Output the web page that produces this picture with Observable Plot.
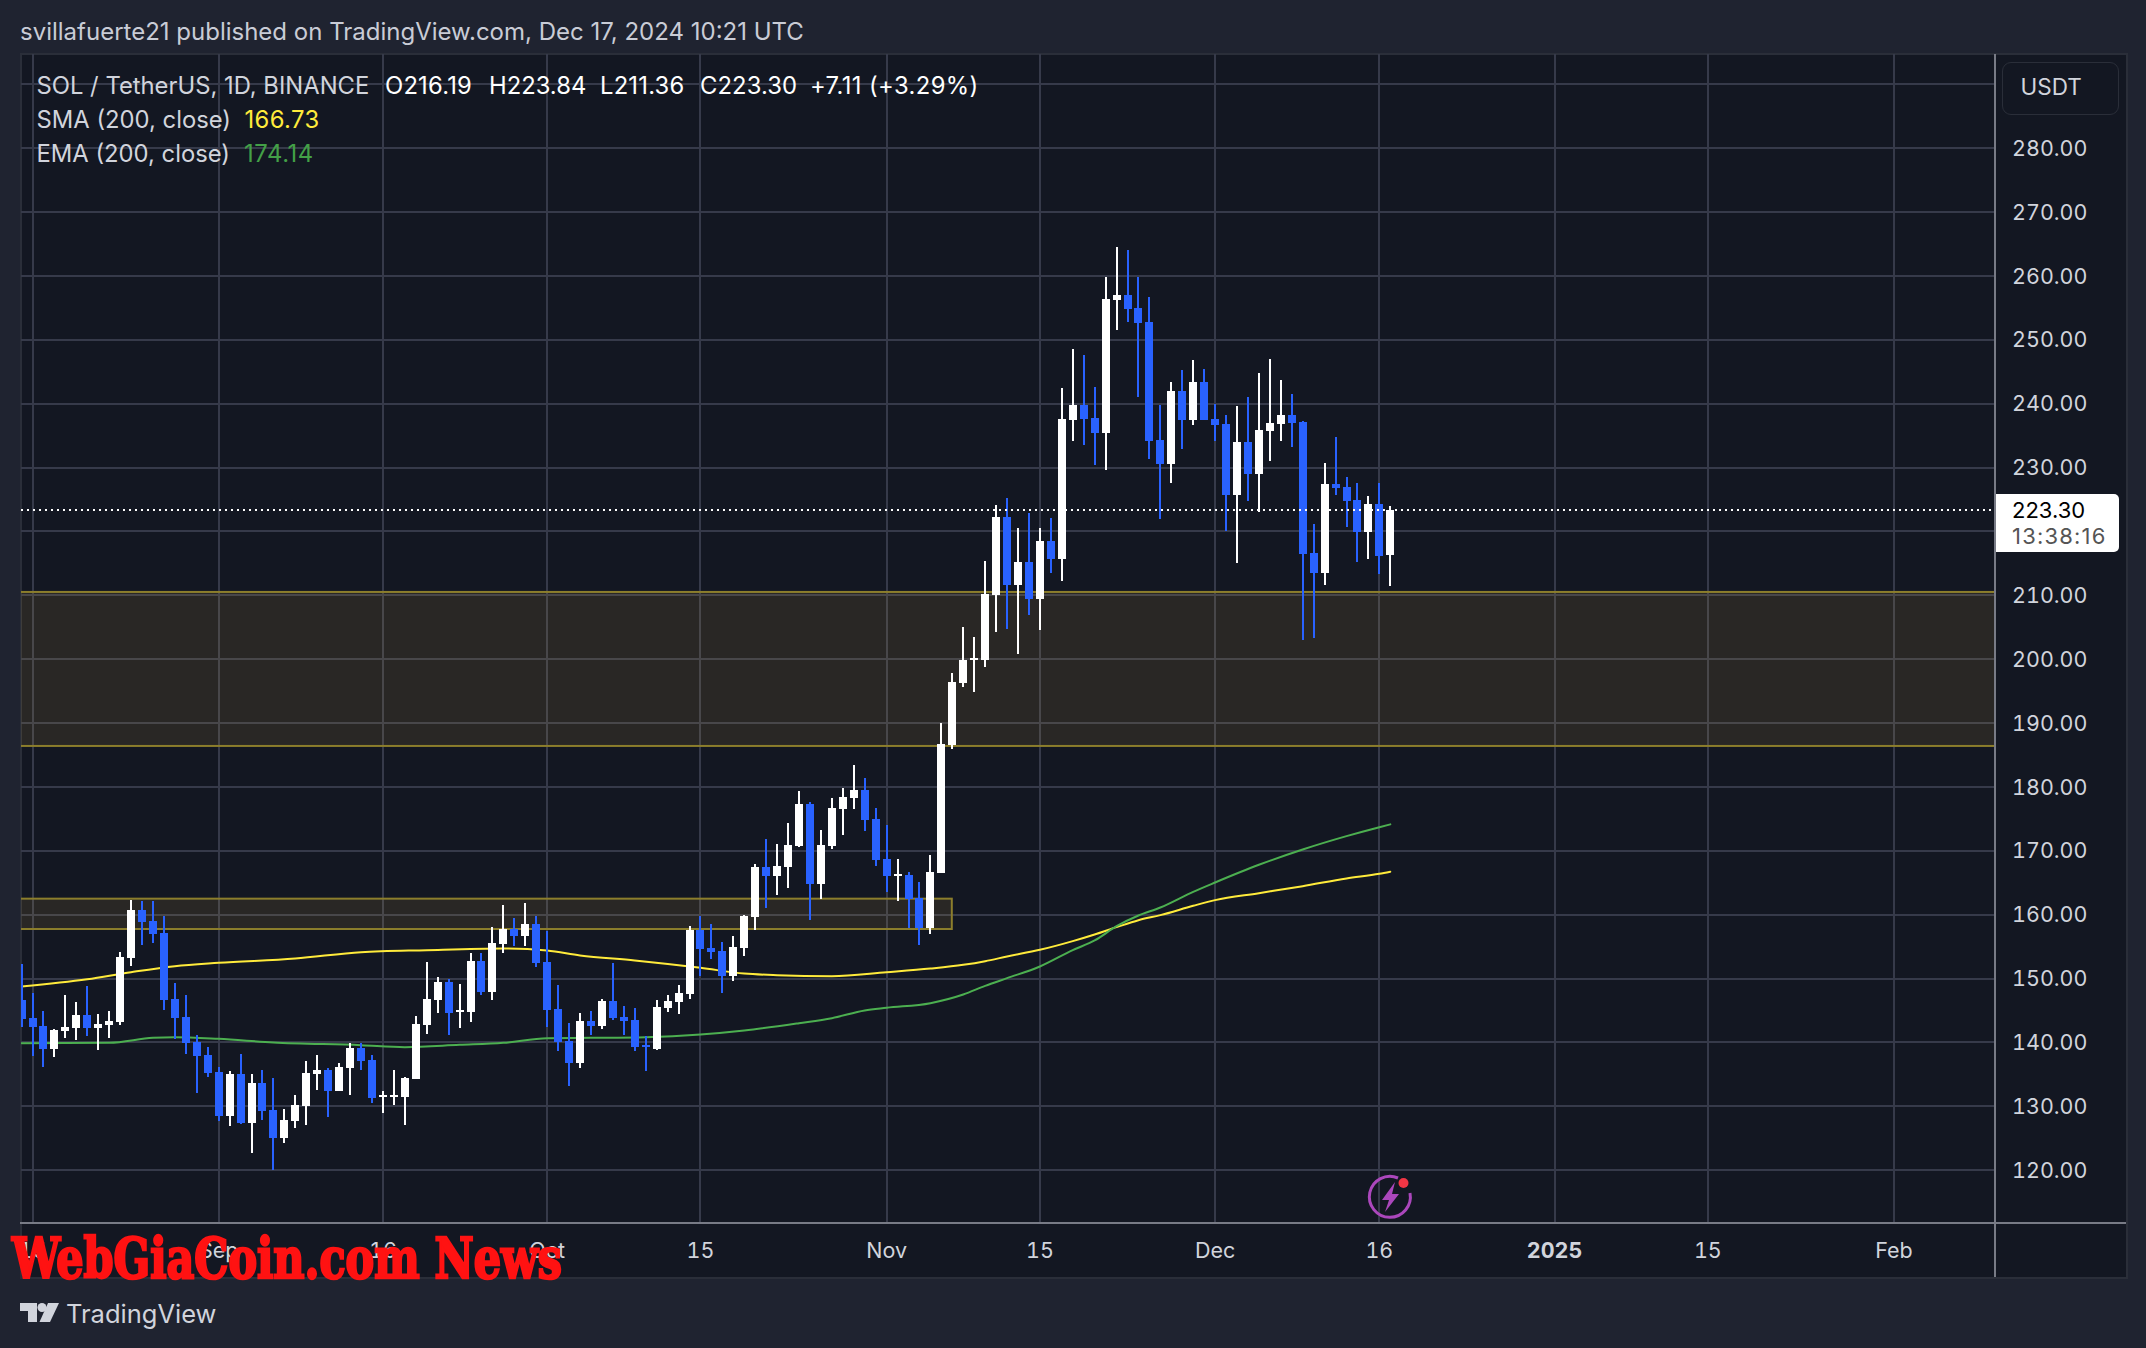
<!DOCTYPE html>
<html>
<head>
<meta charset="utf-8">
<script src="https://cdn.jsdelivr.net/npm/d3@7"></script>
<script src="https://cdn.jsdelivr.net/npm/@observablehq/plot@0.6"></script>
<style>
html,body{margin:0;padding:0;background:#1f2330;width:2146px;height:1348px;overflow:hidden;font-family:Inter,sans-serif}
#frame{position:absolute;left:20px;top:53px;width:2104px;height:1222px;background:#131722;border:2px solid #2a2e39}
#chart{position:absolute;left:0;top:0}
.t{position:absolute;white-space:pre;transform:translateY(-50%);line-height:1}
.rule{position:absolute;background:#787b86}
#usdt{position:absolute;left:2002px;top:62px;width:115px;height:51px;border:1.5px solid #2a2e39;border-radius:9px}
#tag{position:absolute;left:1996px;top:494px;width:123px;height:58px;background:#fff;border-radius:0 5px 5px 0}
svg.o{position:absolute;left:0;top:0;overflow:visible}
</style>
</head>
<body>
<div id="frame"></div>
<div id="chart"></div>
<script>
const startDate = "2024-08-14";
const opens = [146.6,143.75,142.49,138.89,141.71,142.18,144.22,142.18,142.65,143.12,
153.14,160.66,158.93,157.05,146.72,143.9,139.99,137.95,135.29,128.4,
134.98,127.31,133.57,129.34,124.96,127.62,129.97,134.98,135.6,132.32,
135.92,139.05,137.17,131.38,131.38,131.38,134.2,142.65,146.56,149.38,
144.69,144.69,152.67,147.82,155.33,157.68,156.58,158.46,152.51,145.16,
140.15,136.7,143.28,142.49,146.41,143.9,143.43,139.52,138.89,145.31,
146.25,147.5,157.52,154.71,154.24,150.32,154.71,159.57,167.39,165.98,
167.39,170.68,177.26,164.73,170.68,176.47,178.2,179.45,174.91,168.65,
165.98,166.14,162.54,157.84,166.45,186.5,196.21,199.81,199.81,209.98,
222.2,211.55,215.15,209.36,218.44,215.62,237.38,239.73,237.7,235.35,
256.17,256.95,254.92,252.73,234.25,230.49,241.92,237.38,243.33,237.54,
236.75,225.63,233.93,228.92,235.65,236.75,238.16,237.06,216.55,213.42,
227.35,226.88,224.85,219.84,224.22,216.19];
const highs = [152.2,147.66,144.84,142.02,147.35,146.25,148.76,144.37,144.84,154.08,
162.22,162.07,162.07,159.72,149.23,147.35,141.08,139.21,136.07,135.45,
138.11,134.98,135.6,134.35,129.5,131.69,137.01,137.95,135.92,136.7,
139.83,139.83,137.95,132.32,135.6,134.51,144.06,152.51,150.17,149.85,
149.07,153.92,153.92,157.99,161.44,159.4,161.75,159.72,157.37,148.91,
142.96,144.53,144.84,146.72,152.36,145.63,145.31,140.93,146.56,147.35,
148.91,158.15,159.72,158.46,155.65,156.58,159.87,167.86,171.78,170.99,
174.28,179.29,177.57,173.19,178.2,179.76,183.36,181.33,176.63,173.97,
168.65,166.61,165.05,169.27,189.94,197.77,204.97,203.41,215.31,224.08,
225.17,220.47,222.82,220.47,222.04,242.39,248.5,247.56,242.55,259.77,
264.47,264.0,259.77,256.64,239.73,243.33,245.21,246.78,245.37,239.89,
238.16,239.57,240.98,244.73,246.93,243.64,241.45,237.22,221.09,230.64,
234.71,228.45,227.51,225.48,227.51,223.84];
const lows = [142.4,137.8,136.07,137.64,140.61,140.3,140.93,138.74,140.61,142.65,
151.89,155.18,155.49,145.0,140.46,138.11,132.0,134.51,127.62,126.84,
127.15,122.61,127.78,119.95,124.18,126.52,127.0,132.47,128.25,132.32,
131.69,135.6,130.44,128.87,130.12,127.0,134.2,141.24,144.53,141.08,
142.18,143.12,147.35,146.56,153.92,155.02,155.02,151.73,142.34,138.58,
133.1,135.92,141.08,142.02,143.43,141.08,138.58,135.45,138.74,144.69,
144.37,146.72,150.32,152.98,147.66,149.54,153.45,157.53,160.97,163.0,
164.11,170.53,159.1,162.38,170.21,172.4,176.47,173.03,167.55,163.48,
162.07,157.84,155.18,156.9,166.45,185.87,195.58,194.8,198.71,204.19,
204.66,200.75,206.85,204.5,213.43,212.18,234.09,233.47,230.34,229.55,
251.47,252.72,240.98,231.27,221.88,227.52,232.84,236.6,237.38,234.09,
220.0,214.99,224.69,222.97,230.95,234.09,233.15,202.93,203.24,211.54,
225.63,220.62,215.14,215.61,213.26,211.36];
const closes = [143.6,142.34,138.89,141.87,142.34,144.22,142.18,142.81,143.28,153.3,
160.66,158.78,156.9,146.56,143.75,139.83,137.8,135.13,128.4,134.98,
127.31,133.57,129.19,124.96,127.78,130.12,135.13,135.6,132.32,136.07,
139.05,137.01,131.22,131.69,131.69,134.35,142.81,146.72,149.38,144.53,
145.0,152.67,147.82,155.49,157.68,156.58,158.46,152.36,145.0,139.99,
136.7,143.28,142.49,146.41,143.75,143.28,139.21,139.21,145.47,146.41,
147.66,157.52,154.55,154.08,150.32,154.86,159.72,167.39,165.98,167.55,
170.84,177.26,164.73,170.84,176.63,178.35,179.45,174.75,168.49,165.98,
166.3,162.38,157.84,166.61,186.65,196.36,199.81,200.12,210.14,222.2,
211.55,215.15,209.36,218.44,215.62,237.54,239.73,237.54,235.35,256.33,
256.95,254.76,252.57,234.09,230.49,241.92,237.38,243.33,237.38,236.6,
225.63,233.93,228.92,235.81,236.9,238.16,236.9,216.39,213.42,227.35,
226.73,224.69,219.84,224.22,216.08,223.30];

const smaDates = ["2024-08-14","2024-08-20","2024-08-24","2024-08-28","2024-09-01","2024-09-08","2024-09-14","2024-09-20","2024-09-27","2024-10-01","2024-10-04","2024-10-09","2024-10-15","2024-10-19","2024-10-22","2024-10-27","2024-11-01","2024-11-05","2024-11-08","2024-11-10","2024-11-12","2024-11-15","2024-11-18","2024-11-20","2024-11-22","2024-11-24","2024-11-26","2024-11-29","2024-12-01","2024-12-05","2024-12-09","2024-12-13","2024-12-16","2024-12-17"];
const smaValues = [148.76,149.9,151.0,151.94,152.46,153.14,154.13,154.45,154.7,154.39,153.61,152.83,151.68,150.79,150.53,150.37,151.0,151.57,152.15,152.72,153.46,154.5,155.86,156.9,158.05,159.14,159.93,161.39,162.28,163.37,164.47,165.67,166.4,166.73];
const emaDates = ["2024-08-14","2024-08-22","2024-08-26","2024-08-28","2024-09-01","2024-09-06","2024-09-14","2024-09-18","2024-09-23","2024-09-27","2024-10-01","2024-10-05","2024-10-10","2024-10-15","2024-10-19","2024-10-24","2024-10-27","2024-10-30","2024-11-01","2024-11-05","2024-11-08","2024-11-10","2024-11-12","2024-11-15","2024-11-18","2024-11-20","2024-11-22","2024-11-24","2024-11-26","2024-11-29","2024-12-01","2024-12-05","2024-12-09","2024-12-13","2024-12-16","2024-12-17"];
const emaValues = [139.88,139.94,140.72,140.82,140.56,140.0,139.57,139.26,139.62,139.94,140.67,140.72,140.82,141.24,141.87,143.02,143.8,145.0,145.42,146.15,147.5,148.86,150.06,151.89,154.45,155.96,158.2,159.87,161.13,163.58,165.04,167.81,170.21,172.3,173.7,174.14];

const zones = [
  {x1:"2024-07-01", x2:"2025-04-01", low:186.34, high:210.45},
  {x1:"2024-07-01", x2:"2024-11-07", low:157.68, high:162.43}
];
const lastPrice = 223.30;
const gridPrices = d3.range(120, 300, 10);
const axisPrices = [120,130,140,150,160,170,180,190,200,210,230,240,250,260,270,280];
const tickDates = ["2024-08-15","2024-09-01","2024-09-16","2024-10-01","2024-10-15","2024-11-01","2024-11-15","2024-12-01","2024-12-16","2025-01-01","2025-01-15","2025-02-01"];
const tickLabels = ["15","Sep","16","Oct","15","Nov","15","Dec","16","2025","15","Feb"];
const boldTick = "2025-01-01";

const candles = opens.map((o,i)=>({date:d3.utcDay.offset(new Date(startDate),i),open:o,high:highs[i],low:lows[i],close:closes[i]}));
const series = (ds,vs)=>ds.map((d,i)=>({date:new Date(d),value:vs[i]}));
const sma = series(smaDates,smaValues), ema = series(emaDates,emaValues);
const tickDs = tickDates.map(d=>new Date(d));
const labelOf = new Map(tickDates.map((d,i)=>[+new Date(d),tickLabels[i]]));
const boldD = new Date(boldTick);
const zoneData = zones.map(z=>({...z,x1:new Date(z.x1),x2:new Date(z.x2)}));

const UP="#ffffff", DOWN="#2962ff", GRID="#363a4a";
const crisp={shapeRendering:"crispEdges"};
const up=candles.filter(d=>d.close>=d.open), down=candles.filter(d=>d.close<d.open);
const candleMarks=(data,color)=>[
  Plot.ruleX(data,{x:"date",y1:"low",y2:"high",stroke:color,strokeWidth:2,clip:true,...crisp}),
  Plot.ruleX(data,{x:"date",y1:"open",y2:"close",stroke:color,strokeWidth:8,clip:true,...crisp})
];
const FONT="Inter, sans-serif";
const plot = Plot.plot({
  width:2146, height:1348,
  marginLeft:21, marginRight:151, marginTop:54, marginBottom:125.3,
  style:{background:"transparent",color:"#d1d4dc",fontFamily:FONT,fontSize:"21.5px",overflow:"visible"},
  x:{type:"utc",domain:[new Date("2024-08-14"),new Date("2025-02-10")],range:[21.05,1992.05],axis:null},
  y:{domain:[111.7,294.67],axis:null},
  marks:[
    Plot.gridX(tickDs,{x:d=>d,stroke:GRID,strokeOpacity:1,strokeWidth:2,...crisp}),
    Plot.gridY(gridPrices,{y:d=>d,stroke:GRID,strokeOpacity:1,strokeWidth:2,...crisp}),
    Plot.rect(zoneData,{x1:"x1",x2:"x2",y1:"low",y2:"high",fill:"#fbca4c",fillOpacity:0.095,stroke:"#8c7e2c",strokeWidth:2,clip:true}),
    Plot.line(sma,{x:"date",y:"value",stroke:"#ffeb3b",strokeWidth:2,curve:"monotone-x",clip:true}),
    Plot.line(ema,{x:"date",y:"value",stroke:"#4caf50",strokeWidth:2,curve:"monotone-x",clip:true}),
    ...candleMarks(down,DOWN),
    ...candleMarks(up,UP),
    Plot.ruleY([lastPrice],{y:d=>d,stroke:"#fff",strokeWidth:2,strokeDasharray:"2,4",...crisp}),
    Plot.axisY(axisPrices,{anchor:"right",tickSize:0,tickPadding:16.5,tickFormat:d=>d.toFixed(2),fontSize:21.5,fontFamily:FONT,label:null,textAnchor:"start",dy:0.7}),
    Plot.axisX(tickDs.filter(d=>+d!==+boldD),{anchor:"bottom",tickSize:0,tickPadding:20,tickFormat:d=>labelOf.get(+d),fontSize:21.5,fontFamily:FONT,label:null}),
    Plot.axisX([boldD],{anchor:"bottom",tickSize:0,tickPadding:20,tickFormat:d=>labelOf.get(+d),fontSize:21.5,fontWeight:"bold",fontFamily:FONT,label:null})
  ]
});
document.getElementById("chart").appendChild(plot);

// Chart chrome and text overlays
const label=(s,x,y,size,color,extra={})=>{
  const e=document.createElement("div");e.className="t";e.textContent=s;
  Object.assign(e.style,{left:x+"px",top:y+"px",fontSize:size+"px",color},extra);
  document.body.appendChild(e);return e;
};
const bar=(x,y,w,h)=>{const e=document.createElement("div");e.className="rule";Object.assign(e.style,{left:x+"px",top:y+"px",width:w+"px",height:h+"px"});document.body.appendChild(e);};
bar(20,1222,2106,2);
bar(1994,54,2,1223);
const box=document.createElement("div");box.id="usdt";document.body.appendChild(box);
const tag=document.createElement("div");tag.id="tag";document.body.appendChild(tag);

label("svillafuerte21 published on TradingView.com, Dec 17, 2024 10:21 UTC",20,32,24,"#c9ccd6");
label("SOL / TetherUS, 1D, BINANCE",36.5,86,23.8,"#d1d4dc");
label("O216.19",385,86,23.8,"#ffffff",{letterSpacing:"0.2px"});
label("H223.84",489,86,23.8,"#ffffff");
label("L211.36",600,86,23.8,"#ffffff",{letterSpacing:"0.2px"});
label("C223.30",700,86,23.8,"#ffffff",{letterSpacing:"0.1px"});
label("+7.11 (+3.29%)",810,86,23.8,"#ffffff",{letterSpacing:"0.4px"});
label("SMA (200, close)",36.5,120,23.8,"#d1d4dc");
label("166.73",244.5,120,23.8,"#ffeb3b",{letterSpacing:"0.4px"});
label("EMA (200, close)",36.5,154,23.8,"#d1d4dc");
label("174.14",244,154,23.8,"#43a047",{letterSpacing:"0.6px"});
label("USDT",2020.5,87,22.5,"#d1d4dc");
label(lastPrice.toFixed(2),2012,510,22,"#000");
label("13:38:16",2012,536,22,"#555",{letterSpacing:"1.2px"});
label("TradingView",66,1314,25.5,"#d1d4dc");

const ns="http://www.w3.org/2000/svg";
const over=document.createElementNS(ns,"svg");
over.setAttribute("class","o");over.setAttribute("width",2146);over.setAttribute("height",1348);
over.innerHTML=`
<text x="12" y="1278" style="font-family:'DejaVu Serif Condensed','DejaVu Serif',serif;font-weight:700;font-stretch:condensed" font-size="56" fill="#ff1212" textLength="550" lengthAdjust="spacingAndGlyphs" stroke="#ff1212" stroke-width="2.5">WebGiaCoin.com News</text>
<g transform="translate(1390,1197)">
  <path d="M 8 -19 A 20.5 20.5 0 1 0 20 -4" fill="none" stroke="#ab47bc" stroke-width="3"/>
  <path d="M 5 -15 L -8 3 L -1 3 L -5 15 L 9 -3 L 2 -3 Z" fill="#ab47bc"/>
  <circle cx="13.5" cy="-14" r="5" fill="#f23645"/>
</g>
<g fill="#d1d4dc">
  <path d="M20 1303 H37 V1322 H28 V1311 H20 Z"/>
  <circle cx="42" cy="1307.5" r="4.5"/>
  <path d="M48 1303 H59 L50 1322 H39.5 Z"/>
</g>`;
document.body.appendChild(over);
</script>
</body>
</html>
